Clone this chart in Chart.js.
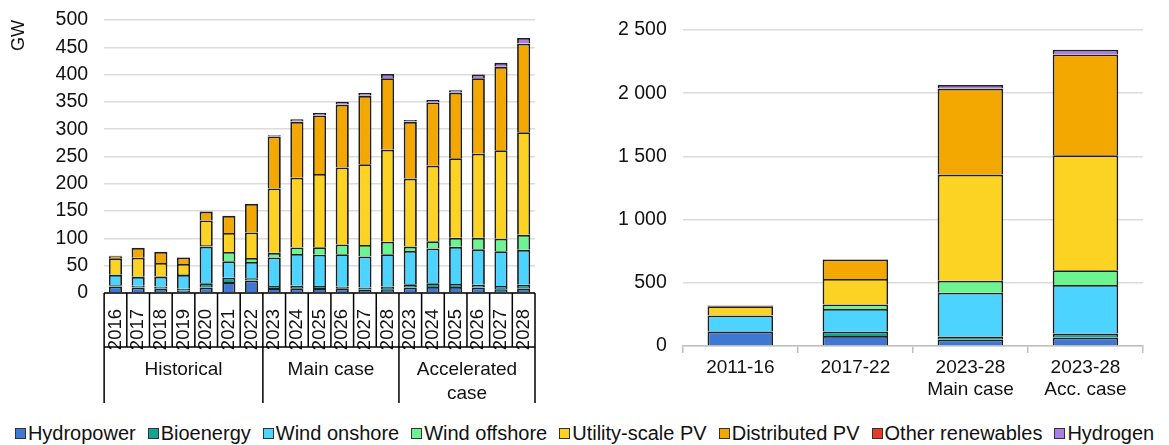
<!DOCTYPE html>
<html>
<head>
<meta charset="utf-8">
<script src="https://cdn.jsdelivr.net/npm/chart.js@4"></script>
<style>
    html, body { margin: 0; padding: 0; background: #fff; }
    body { width: 1169px; height: 445px; position: relative; overflow: hidden; font-family: "Liberation Sans", Arial, sans-serif; }
    #leftBox { position: absolute; left: 0; top: 0; width: 565px; height: 415px; }
    #rightBox { position: absolute; left: 590px; top: 0; width: 579px; height: 415px; }
    #legend { position: absolute; left: 0; top: 421px; width: 1169px; height: 24px; display: flex; justify-content: center; align-items: center; font-size: 20px; color: #111; white-space: nowrap; }
    .item { display: flex; align-items: center; margin: 0 6px; }
    .box { width: 9px; height: 9px; border: 1px solid #333; margin-right: 2px; }
</style>
</head>
<body>
<div id="leftBox"><canvas id="leftChart"></canvas></div>
<div id="rightBox"><canvas id="rightChart"></canvas></div>
<div id="legend"></div>
<script>
// Left chart: annual additions (GW)
const years = ["2016", "2017", "2018", "2019", "2020", "2021", "2022",
    "2023", "2024", "2025", "2026", "2027", "2028",
    "2023", "2024", "2025", "2026", "2027", "2028"];
const groupNames = [["Historical"], ["Main case"], ["Accelerated", "case"]];
const groupSizes = [7, 6, 6];

const hydroL = [12, 10, 8, 4, 10, 20, 23, 9, 8.5, 9, 8.5, 6, 7, 10, 11, 11, 10, 7, 8];
const bioL = [2, 3.5, 4, 4, 8, 8, 4, 4, 5, 4, 3.5, 4, 5, 6, 7, 5.5, 5, 6, 7];
const onshoreL = [19, 16, 18, 25, 67, 30, 30, 52, 58, 57, 59, 57, 59, 61, 63.5, 68, 65, 63.5, 64];
const offshoreL = [1.5, 1, 1, 2, 3, 17, 7, 8.5, 12, 14, 18, 21, 23, 8, 13.5, 16.5, 21, 23, 27.5];
const utilityL = [29, 34, 24, 18, 45, 35, 47, 118, 127.5, 134, 141, 148, 168.5, 124.5, 138, 146, 154, 162, 188];
const distributedL = [4, 18, 20, 12, 16, 31, 52, 95, 102.5, 107, 115, 125, 131, 104, 116, 120, 138.5, 152.5, 162];
const otherL = [0.5, 0.5, 0.5, 0.5, 0.5, 0.5, 0.5, 0.5, 0.5, 0.5, 0.5, 0.5, 0.5, 0.5, 0.5, 0.5, 0.5, 0.5, 0.5];
const hydrogenL = [0, 0, 0, 0, 0, 0, 0, 2, 4, 4, 5, 5, 7, 3, 4, 4, 6, 7, 10];

// Right chart: cumulative additions per period (GW)
const periods = ["2011-16", "2017-22", ["2023-28", "Main case"], ["2023-28", "Acc. case"]];
const hydroR = [115, 80, 52, 68];
const bioR = [4, 35, 24, 30];
const onshoreR = [123, 178, 345, 385];
const offshoreR = [1, 35, 95, 116];
const utilityR = [72, 203, 840, 910];
const distributedR = [5, 153, 680, 797];
const otherR = [3, 3, 3, 3];
const hydrogenR = [0, 0, 25, 35];

const seriesNames = ["Hydropower", "Bioenergy", "Wind onshore", "Wind offshore",
    "Utility-scale PV", "Distributed PV", "Other renewables", "Hydrogen"];
const colors = ["#3E78D3", "#14A394", "#4DD3FF", "#6BF48F", "#FDD323", "#F2A800", "#E53A2E", "#A97FE6"];

const FONT = "'Liberation Sans', Arial, sans-serif";
const GRID = "#dcdcdc";

function makeDatasets(lists, barPct) {
    return lists.map(function (vals, i) {
        return {
            label: seriesNames[i],
            data: vals,
            backgroundColor: colors[i],
            borderColor: "#1e1e1e",
            borderWidth: 1.8,
            categoryPercentage: 1,
            barPercentage: barPct
        };
    });
}

// tick padding would otherwise push the plot top down
function noTopPad(scale) { scale.paddingTop = 0; }

// Draws the year boxes and group labels under the left chart
const groupAxisPlugin = {
    id: "groupAxis",
    afterDraw(chart) {
        const ctx = chart.ctx;
        const x = chart.scales.x;
        const top = chart.chartArea.bottom;
        const yearBottom = top + 54;
        const groupBottom = top + 110;
        const n = years.length;
        const edge = function (i) {
            if (i <= 0) return x.left;
            if (i >= n) return x.right;
            return (x.getPixelForValue(i - 1) + x.getPixelForValue(i)) / 2;
        };
        ctx.save();
        ctx.strokeStyle = "#000";
        ctx.lineWidth = 1.5;
        ctx.beginPath();
        ctx.moveTo(x.left, top); ctx.lineTo(x.right, top);
        ctx.moveTo(x.left, yearBottom); ctx.lineTo(x.right, yearBottom);
        for (let i = 0; i <= n; i++) {
            ctx.moveTo(edge(i), top); ctx.lineTo(edge(i), yearBottom);
        }
        let start = 0;
        const bounds = [0];
        groupSizes.forEach(function (s) { start += s; bounds.push(start); });
        bounds.forEach(function (b) {
            ctx.moveTo(edge(b), yearBottom); ctx.lineTo(edge(b), groupBottom);
        });
        ctx.stroke();

        ctx.fillStyle = "#111";
        ctx.font = "19px " + FONT;
        ctx.textAlign = "center";
        ctx.textBaseline = "middle";
        groupNames.forEach(function (lines, g) {
            const cx = (edge(bounds[g]) + edge(bounds[g + 1])) / 2;
            lines.forEach(function (t, k) {
                ctx.fillText(t, cx, yearBottom + 23 + k * 24);
            });
        });
        ctx.restore();
    }
};

new Chart(document.getElementById("leftChart").getContext("2d"), {
    type: "bar",
    data: {
        labels: years,
        datasets: makeDatasets([hydroL, bioL, onshoreL, offshoreL, utilityL, distributedL, otherL, hydrogenL], 0.58)
    },
    options: {
        responsive: true,
        maintainAspectRatio: false,
        animation: false,
        layout: { padding: { top: 20, right: 30, left: 0, bottom: 0 } },
        plugins: { legend: { display: false }, tooltip: { enabled: false } },
        scales: {
            x: {
                stacked: true,
                grid: { display: false },
                border: { display: false },
                ticks: {
                    autoSkip: false,
                    minRotation: 90,
                    maxRotation: 90,
                    padding: 8,
                    color: "#111",
                    font: { family: FONT, size: 18.5 }
                },
                afterFit: function (scale) { scale.height = 122; }
            },
            y: {
                stacked: true,
                min: 0,
                max: 500,
                grid: { color: GRID, lineWidth: 1.5, drawTicks: false },
                border: { display: false },
                title: {
                    display: true,
                    text: "GW",
                    align: "end",
                    color: "#111",
                    font: { family: FONT, size: 18 },
                    padding: { top: 8, bottom: 10 }
                },
                ticks: {
                    stepSize: 50,
                    padding: 16,
                    color: "#111",
                    font: { family: FONT, size: 19.5 }
                },
                afterFit: noTopPad
            }
        }
    },
    plugins: [groupAxisPlugin]
});

new Chart(document.getElementById("rightChart").getContext("2d"), {
    type: "bar",
    data: {
        labels: periods,
        datasets: makeDatasets([hydroR, bioR, onshoreR, offshoreR, utilityR, distributedR, otherR, hydrogenR], 0.57)
    },
    options: {
        responsive: true,
        maintainAspectRatio: false,
        animation: false,
        layout: { padding: { top: 30, right: 26, left: 12, bottom: 0 } },
        plugins: { legend: { display: false }, tooltip: { enabled: false } },
        scales: {
            x: {
                stacked: true,
                grid: { display: true, drawOnChartArea: false, offset: true, color: "#bfbfbf", lineWidth: 1.5, tickLength: 7 },
                border: { display: true, color: "#bfbfbf", width: 1.5 },
                ticks: {
                    padding: 3,
                    color: "#111",
                    font: { family: FONT, size: 19 }
                },
                afterFit: function (scale) { scale.height = 69; }
            },
            y: {
                stacked: true,
                min: 0,
                max: 2500,
                grid: { color: GRID, lineWidth: 1.5, drawTicks: false },
                border: { display: false },
                ticks: {
                    stepSize: 500,
                    padding: 16,
                    color: "#111",
                    font: { family: FONT, size: 19.5 },
                    callback: function (v) {
                        return String(v).replace(/\B(?=(\d{3})+(?!\d))/g, " ");
                    }
                },
                afterFit: noTopPad
            }
        }
    }
});

// HTML legend shared by both charts
const legend = document.getElementById("legend");
seriesNames.forEach(function (name, i) {
    const item = document.createElement("div");
    item.className = "item";
    const box = document.createElement("span");
    box.className = "box";
    box.style.background = colors[i];
    const label = document.createElement("span");
    label.textContent = name;
    item.appendChild(box);
    item.appendChild(label);
    legend.appendChild(item);
});
</script>
</body>
</html>
